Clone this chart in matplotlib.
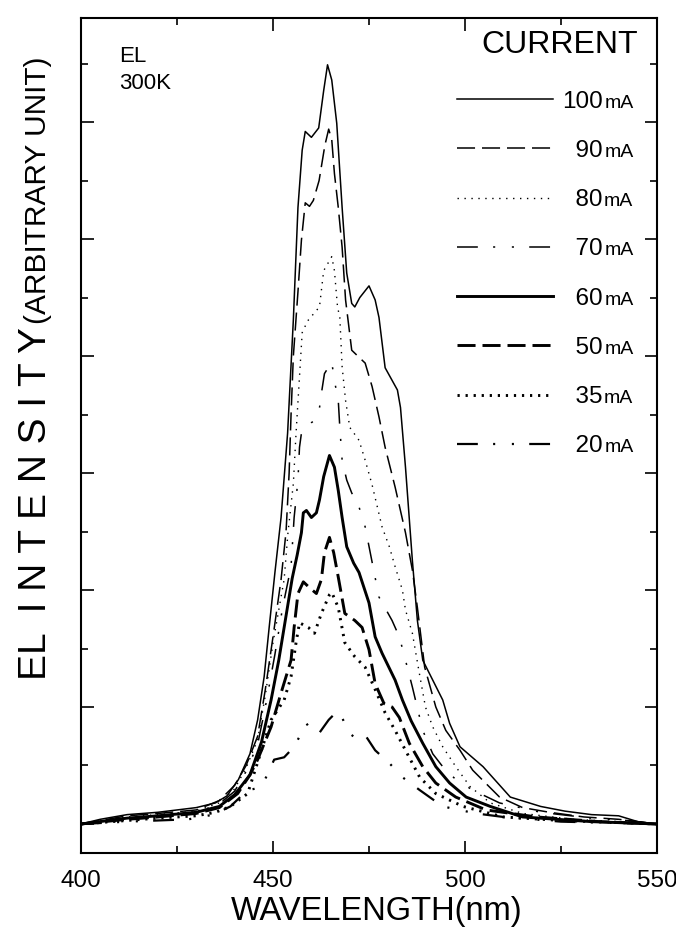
# EL spectra vs drive current (300K)
import matplotlib
matplotlib.use('Agg')
import matplotlib.pyplot as plt

plt.rcParams['font.family'] = ['Liberation Sans', 'DejaVu Sans']
plt.rcParams['lines.scale_dashes'] = False

# currents in the legend (mA)
currents = [100, 90, 80, 70, 60, 50, 35, 20]

# spectra: wavelength (nm) and intensity (arb., 1 = one major tick)
wl_100 = [400, 405, 412, 420, 430, 435, 438, 441, 444, 446, 447.7, 449, 450.5, 452.1, 453.8, 455.3, 456.5, 457.6, 458.4, 460,
          461.9, 463.2, 464.2, 465.3, 466.6, 468, 469.2, 470.5, 471.3, 472.6, 475, 476.6, 477.6, 479.2, 482.4, 483.2, 484.5,
          486.3, 487.6, 489, 491.6, 494.2, 496, 498.7, 504.7, 511.8, 519.7, 526, 533, 540, 545, 550]
i_100 = [0.0, 0.04, 0.08, 0.1, 0.14, 0.18, 0.24, 0.38, 0.6, 0.89, 1.26, 1.68, 2.15, 2.62, 3.34, 4.31, 5.27, 5.76, 5.92, 5.87,
         5.95, 6.27, 6.49, 6.36, 5.99, 5.27, 4.71, 4.45, 4.42, 4.5, 4.6, 4.48, 4.33, 3.9, 3.71, 3.56, 3.05,
         2.25, 1.74, 1.4, 1.23, 1.06, 0.86, 0.66, 0.49, 0.23, 0.15, 0.11, 0.08, 0.07, 0.02, 0.0]

wl_90 = [400, 412, 420, 430, 436, 440, 443, 446, 448, 450, 452.1, 453.4, 454.2, 454.7, 455.3, 456.5, 457.4, 458.4, 459.5, 460.5,
         462, 463.5, 464.5, 465.3, 466, 467, 468, 468.9, 470.5, 472.4, 474, 475.8, 477.6, 479.2, 481.8, 484.5, 486.3, 487.6,
         489.5, 492.4, 495, 498.7, 502, 509, 515, 522, 531, 540, 550]
i_90 = [0.0, 0.07, 0.09, 0.12, 0.2, 0.33, 0.5, 0.75, 1.15, 1.6, 2.09, 2.5, 3.0, 3.5, 4.0, 4.55, 4.99, 5.31, 5.28, 5.33,
        5.5, 5.8, 5.94, 5.85, 5.56, 5.27, 4.93, 4.48, 4.05, 3.99, 3.94, 3.74, 3.48, 3.22, 2.88, 2.49, 2.17, 1.85,
        1.34, 1.0, 0.8, 0.63, 0.46, 0.23, 0.14, 0.1, 0.06, 0.04, 0.0]

wl_80 = [400, 412, 420, 430, 436, 440, 443, 446, 448, 450, 452.9, 453.9, 455.3, 456, 456.8, 457.6, 459, 460.8, 462.1, 463.2,
         465.3, 466, 466.8, 467.4, 468, 468.9, 470, 472.4, 474, 475.8, 478.4, 480.3, 481.8, 483.7, 484.5, 486.3, 488.1,
         489.7, 491.6, 494.2, 497.6, 501.3, 506.6, 515, 528, 540, 550]
i_80 = [0.0, 0.06, 0.08, 0.11, 0.18, 0.3, 0.48, 0.72, 1.1, 1.55, 2.09, 2.49, 2.91, 3.34, 3.77, 4.2, 4.3, 4.37, 4.42, 4.73,
        4.85, 4.73, 4.42, 4.33, 3.91, 3.62, 3.39, 3.28, 3.11, 2.9, 2.54, 2.37, 2.2, 2.0, 1.83, 1.63, 1.29,
        1.0, 0.83, 0.66, 0.49, 0.32, 0.18, 0.09, 0.04, 0.02, 0.0]

wl_70 = [400, 412, 420, 430, 436, 440, 443, 446, 448, 450.5, 452.5, 454.7, 455.5, 456.5, 456.9, 457.4, 459.2, 460, 461.8, 462.6,
         463.4, 465.3, 466, 467, 467.4, 468, 469.2, 470.5, 472.4, 474, 475.8, 477.6, 481, 482.9, 484.5, 486.3, 489,
         491.6, 494.2, 497.6, 502, 509, 519.7, 532.9, 542, 550]
i_70 = [0.0, 0.05, 0.07, 0.1, 0.17, 0.28, 0.45, 0.68, 1.0, 1.45, 1.85, 2.2, 2.62, 2.94, 3.22, 3.34, 3.39, 3.43, 3.48, 3.68,
        3.85, 3.95, 3.79, 3.62, 3.39, 3.11, 2.94, 2.83, 2.71, 2.54, 2.24, 1.94, 1.74, 1.6, 1.4, 1.17, 0.8,
        0.6, 0.49, 0.38, 0.29, 0.18, 0.1, 0.05, 0.03, 0.0]

wl_60 = [400, 412, 420, 430, 436, 440, 444, 447, 449.5, 451.5, 453.5, 455, 456.3, 457.4, 457.9, 458.7, 460, 461.3, 462.1, 463.2,
         464.7, 466, 467, 468, 469.2, 471, 472.4, 475, 476.6, 478.4, 481.8, 483.7, 486, 489, 492.4, 496, 500.3, 506.6,
         515, 533, 550]
i_60 = [0.0, 0.05, 0.07, 0.1, 0.15, 0.25, 0.42, 0.7, 1.06, 1.4, 1.8, 2.1, 2.3, 2.49, 2.66, 2.68, 2.62, 2.66, 2.77, 2.97,
        3.15, 3.05, 2.85, 2.62, 2.37, 2.23, 2.15, 1.89, 1.6, 1.46, 1.23, 1.06, 0.88, 0.69, 0.49, 0.35, 0.23, 0.15,
        0.06, 0.02, 0.0]

wl_50 = [400, 412, 420, 430, 436, 440.8, 444, 446, 449.5, 452.1, 454.7, 455.5, 456.5, 457.9, 459.5, 461.3, 462.6, 463.4, 464.7,
         465.8, 467, 468.7, 471.3, 473.2, 475, 476.6, 478.9, 481, 482.9, 485.5, 489, 492.4, 497.6, 505.5, 518.7, 535, 550]
i_50 = [0.0, 0.04, 0.06, 0.09, 0.14, 0.26, 0.42, 0.55, 0.83, 1.12, 1.4, 1.68, 1.97, 2.07, 2.02, 1.97, 2.09, 2.32, 2.45,
        2.32, 2.11, 1.8, 1.74, 1.68, 1.49, 1.2, 1.03, 1.0, 0.91, 0.69, 0.49, 0.35, 0.23, 0.12, 0.06, 0.02, 0.0]

wl_35 = [400, 412, 420, 430, 435, 438.9, 443.4, 446.8, 449.5, 452.9, 454.7, 456, 456.9, 459.2, 460.8, 462.6, 464.7, 465.3,
         467, 468.7, 471.3, 474, 476.6, 479.2, 481.8, 484.5, 488.2, 492.4, 499.5, 510, 525, 550]
i_35 = [0.0, 0.03, 0.05, 0.07, 0.1, 0.15, 0.26, 0.61, 0.89, 1.06, 1.26, 1.55, 1.72, 1.68, 1.63, 1.8, 1.96, 1.98,
        1.85, 1.55, 1.43, 1.34, 1.15, 0.95, 0.8, 0.63, 0.4, 0.26, 0.15, 0.06, 0.03, 0.0]

wl_20 = [400, 412, 420, 428, 434.5, 438.9, 443.4, 446.8, 448.2, 450.3, 452.9, 455.5, 458.7, 460, 462.1, 464.5, 466.6, 468,
         469.7, 471.3, 474, 476.6, 480.3, 483.7, 488.2, 494.2, 502.9, 510, 525, 550]
i_20 = [0.0, 0.02, 0.03, 0.04, 0.08, 0.15, 0.29, 0.31, 0.4, 0.55, 0.57, 0.66, 0.86, 0.8, 0.78, 0.89, 0.96, 0.91,
        0.78, 0.74, 0.76, 0.63, 0.52, 0.4, 0.29, 0.15, 0.09, 0.06, 0.02, 0.0]

wls = [wl_100, wl_90, wl_80, wl_70, wl_60, wl_50, wl_35, wl_20]
ints = [i_100, i_90, i_80, i_70, i_60, i_50, i_35, i_20]

# line styles (width in pt, dash pattern in pt)
dashdotdot = (0, (15, 11, 1.5, 12, 1.5, 11))
styles = [('-', 1.1), ((0, (13, 5)), 1.1), ((0, (1, 4)), 1.0), (dashdotdot, 1.1),
          ('-', 2.1), ((0, (13, 5)), 2.1), ((0, (1.6, 4.2)), 2.1), (dashdotdot, 1.6)]

fig = plt.figure(figsize=(6.76, 9.4), dpi=100)
ax = fig.add_axes([81/676, 1 - 853/940, 576/676, 835/940])

for c, x, y, (ls, lw) in zip(currents, wls, ints, styles):
    lab = '{:3d}'.format(c).replace(' ', '  ')
    ax.plot(x, y, color='k', linestyle=ls, linewidth=lw, label=lab)

ax.set_xlim(400, 550)
ax.set_ylim(-0.248, 6.89)
ax.set_xticks([400, 450, 500, 550])
ax.set_xticks([425, 475, 525], minor=True)
ax.set_yticks(range(0, 7))
ax.set_yticks([k + 0.5 for k in range(0, 7)], minor=True)
ax.tick_params(which='both', direction='in', top=True, right=True, width=1.2, labelleft=False)
ax.tick_params(which='major', length=9)
ax.tick_params(which='minor', length=5)
ax.tick_params(axis='x', labelsize=17.5, pad=12)
for sp in ax.spines.values():
    sp.set_linewidth(1.5)

ax.set_xlabel('WAVELENGTH(nm)', fontsize=23.5)
ax.xaxis.set_label_coords(0.514, -0.052)

# text inside the plot
ax.text(0.066, 0.954, 'EL', transform=ax.transAxes, fontsize=16, ha='left', va='center')
ax.text(0.066, 0.921, '300K', transform=ax.transAxes, fontsize=16, ha='left', va='center')
ax.text(0.967, 0.968, 'CURRENT', transform=ax.transAxes, fontsize=23, ha='right', va='center')

leg = ax.legend(loc='upper left', bbox_to_anchor=(0.653, 0.913), frameon=False, fontsize=17.5,
                handlelength=3.95, handletextpad=0.35, labelspacing=1.12, borderpad=0, borderaxespad=0)

# y label in two sizes, big part letter-spaced
big = fig.text(0.053, 1 - 680/940, 'EL  I N T E N S I T Y', rotation=90, ha='center', va='bottom', fontsize=28)

fig.canvas.draw()
r = fig.canvas.get_renderer()
inv = fig.transFigure.inverted()

bb = inv.transform_bbox(big.get_window_extent(r))
fig.text(bb.x1 - 2/676, bb.y1 + 3/940, '(ARBITRARY UNIT)', rotation=90, ha='right', va='bottom', fontsize=21.5)

# small "mA" after each legend number
for t in leg.get_texts():
    tb = inv.transform_bbox(t.get_window_extent(r))
    fig.text(tb.x1 + 2/676, tb.y0 + 1/940, 'mA', fontsize=14, ha='left', va='bottom')

fig.savefig('out.png', dpi=100)
